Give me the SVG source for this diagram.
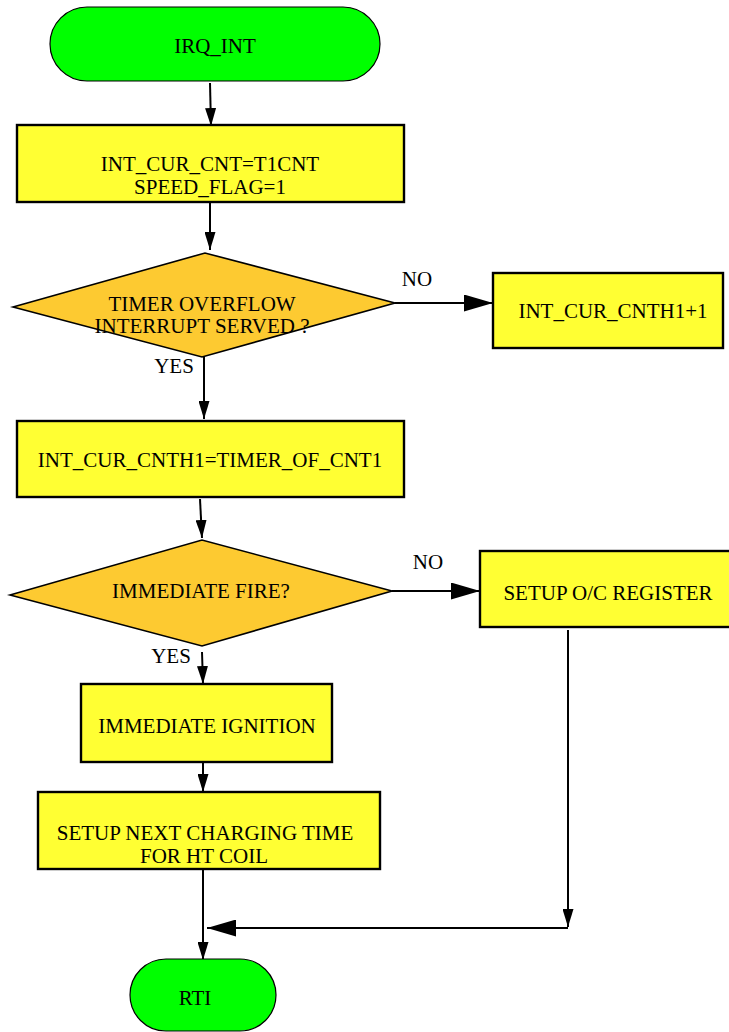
<svg xmlns="http://www.w3.org/2000/svg" width="729" height="1032" viewBox="0 0 729 1032">
<style>
text{font-family:"Liberation Serif","Times New Roman",serif;font-size:21px;fill:#000;text-anchor:middle}
.term{fill:#00FF00;stroke:#000;stroke-width:1.2}
.box{fill:#FFFF33;stroke:#000;stroke-width:2.4}
.dec{fill:#FDCA31;stroke:#000;stroke-width:1.6}
.conn{fill:none;stroke:#000;stroke-width:2}
</style>
<defs>
<marker id="s" viewBox="0 0 18 11" markerWidth="18" markerHeight="11" refX="18" refY="5.5" orient="auto" markerUnits="userSpaceOnUse"><path d="M0,0 L18,5.5 L0,11 z" fill="#000"/></marker>
<marker id="l" viewBox="0 0 29 17" markerWidth="29" markerHeight="17" refX="29" refY="8.5" orient="auto" markerUnits="userSpaceOnUse"><path d="M0,0 L29,8.5 L0,17 z" fill="#000"/></marker>
</defs>
<rect width="729" height="1032" fill="#fff"/>
<g id="connectors" class="conn">
<path d="M210,83 L211,126" marker-end="url(#s)"/>
<path d="M210,203 L210,250" marker-end="url(#s)"/>
<path d="M395,303 L493,303" marker-end="url(#l)"/>
<path d="M204,357 L204,419" marker-end="url(#s)"/>
<path d="M200,499 L202,538" marker-end="url(#s)"/>
<path d="M392,591 L480,591" marker-end="url(#l)"/>
<path d="M202,652 L203,684" marker-end="url(#s)"/>
<path d="M203,763 L203,792" marker-end="url(#s)"/>
<path d="M568,630 L568,927" marker-end="url(#s)"/>
<path d="M568,928 L207,928" marker-end="url(#l)"/>
<path d="M203,869 L203,960" marker-end="url(#s)"/>
</g>
<g id="n_irq">
<rect class="term" x="50" y="7" width="330" height="74" rx="37"/>
<text x="215" y="53">IRQ_INT</text>
</g>
<g id="n_cnt">
<rect class="box" x="17" y="125" width="387" height="77"/>
<text x="210" y="171">INT_CUR_CNT=T1CNT</text>
<text x="210" y="194">SPEED_FLAG=1</text>
</g>
<g id="n_ovf">
<polygon class="dec" points="13,307 205,253 395,303 202,357"/>
<text x="202" y="311">TIMER OVERFLOW</text>
<text x="202" y="333">INTERRUPT SERVED ?</text>
</g>
<g id="n_inc">
<rect class="box" x="493" y="273" width="230" height="75"/>
<text x="613" y="318">INT_CUR_CNTH1+1</text>
</g>
<g id="n_cnth">
<rect class="box" x="17" y="421" width="387" height="76"/>
<text x="210" y="467">INT_CUR_CNTH1=TIMER_OF_CNT1</text>
</g>
<g id="n_fire">
<polygon class="dec" points="10,595 202,540 392,591 202,646"/>
<text x="201" y="598">IMMEDIATE FIRE?</text>
</g>
<g id="n_oc">
<rect class="box" x="480" y="551" width="252" height="76"/>
<text x="608" y="600">SETUP O/C REGISTER</text>
</g>
<g id="n_ign">
<rect class="box" x="81" y="684" width="251" height="78"/>
<text x="207" y="733">IMMEDIATE IGNITION</text>
</g>
<g id="n_chg">
<rect class="box" x="38" y="792" width="342" height="77"/>
<text x="205" y="840">SETUP NEXT CHARGING TIME</text>
<text x="204" y="863">FOR HT COIL</text>
</g>
<g id="n_rti">
<rect class="term" x="130" y="959" width="146" height="72" rx="36"/>
<text x="195" y="1005">RTI</text>
</g>
<g id="labels">
<text x="417" y="286">NO</text>
<text x="174" y="373">YES</text>
<text x="428" y="569">NO</text>
<text x="171" y="663">YES</text>
</g>
</svg>
